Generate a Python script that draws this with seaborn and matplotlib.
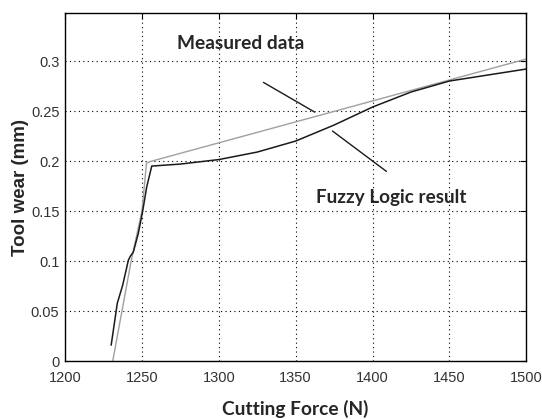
"""Tool wear vs cutting force: measured data against fuzzy logic result."""

import matplotlib

matplotlib.use("Agg")
import matplotlib.pyplot as plt
import pandas as pd
import seaborn as sns

# measured data (grey line)
measured_force = [1231, 1237, 1243, 1250, 1253, 1256.5, 1500]
measured_wear = [0.0, 0.05, 0.10, 0.15, 0.198, 0.200, 0.302]

# fuzzy logic output (black line)
fuzzy_force = [1230, 1234, 1237.5, 1241.2, 1242.5, 1244.4, 1247.7, 1250.5, 1253.1,
               1256.4, 1275, 1300, 1325, 1350, 1375, 1400, 1425, 1450, 1475, 1500]
fuzzy_wear = [0.016, 0.058, 0.076, 0.101, 0.105, 0.109, 0.128, 0.150, 0.174,
              0.195, 0.197, 0.2015, 0.209, 0.220, 0.236, 0.254, 0.269, 0.280, 0.286, 0.292]

x_ticks = [1200, 1250, 1300, 1350, 1400, 1450, 1500]
y_ticks = [0, 0.05, 0.1, 0.15, 0.2, 0.25, 0.3]
y_tick_labels = ["0", "0.05", "0.1", "0.15", "0.2", "0.25", "0.3"]


def main() -> None:
    sns.set_style("white")
    plt.rcParams["font.family"] = ["Liberation Sans", "DejaVu Sans"]
    label_font = ["Lato", "DejaVu Sans"]

    measured = pd.DataFrame({"force": measured_force, "wear": measured_wear})
    fuzzy = pd.DataFrame({"force": fuzzy_force, "wear": fuzzy_wear})

    fig = plt.figure(figsize=(5.42, 4.19), dpi=100)
    ax = fig.add_axes([0.12, 0.138, 0.851, 0.831])

    sns.lineplot(data=measured, x="force", y="wear", ax=ax, color="#a0a0a0",
                 lw=1.0, sort=False, estimator=None)
    sns.lineplot(data=fuzzy, x="force", y="wear", ax=ax, color="#1a1a1a",
                 lw=1.1, sort=False, estimator=None)

    ax.set_xlim(1200, 1500)
    ax.set_ylim(0, 0.348)
    ax.set_xticks(x_ticks)
    ax.set_yticks(y_ticks)
    ax.set_yticklabels(y_tick_labels)
    ax.tick_params(direction="in", length=4, width=0.8, top=True, right=True,
                   labelsize=10.5, labelcolor="#333333", color="black")
    ax.tick_params(axis="x", pad=7)
    ax.tick_params(axis="y", pad=4)
    ax.grid(True, linestyle=(0, (1, 3)), color="black", linewidth=0.8)
    for spine in ax.spines.values():
        spine.set_color("black")
        spine.set_linewidth(1.0)

    ax.set_xlabel("Cutting Force (N)", fontsize=13.8, fontweight="bold",
                  family=label_font, labelpad=11)
    ax.set_ylabel("Tool wear (mm)", fontsize=13.5, fontweight="bold", labelpad=1)

    ax.text(1272.5, 0.318, "Measured data", fontsize=13.8, fontweight="bold",
            family=label_font, va="center", ha="left")
    ax.text(1363.5, 0.164, "Fuzzy Logic result", fontsize=13.6, fontweight="bold",
            family=label_font, va="center", ha="left")
    ax.annotate("", xy=(1364, 0.2475), xytext=(1327.5, 0.280),
                arrowprops=dict(arrowstyle="-", color="#1a1a1a", lw=1.0))
    ax.annotate("", xy=(1372.5, 0.2317), xytext=(1410.5, 0.188),
                arrowprops=dict(arrowstyle="-", color="#1a1a1a", lw=1.0))

    fig.savefig("out.png", dpi=100)
    plt.close(fig)


if __name__ == "__main__":
    main()
